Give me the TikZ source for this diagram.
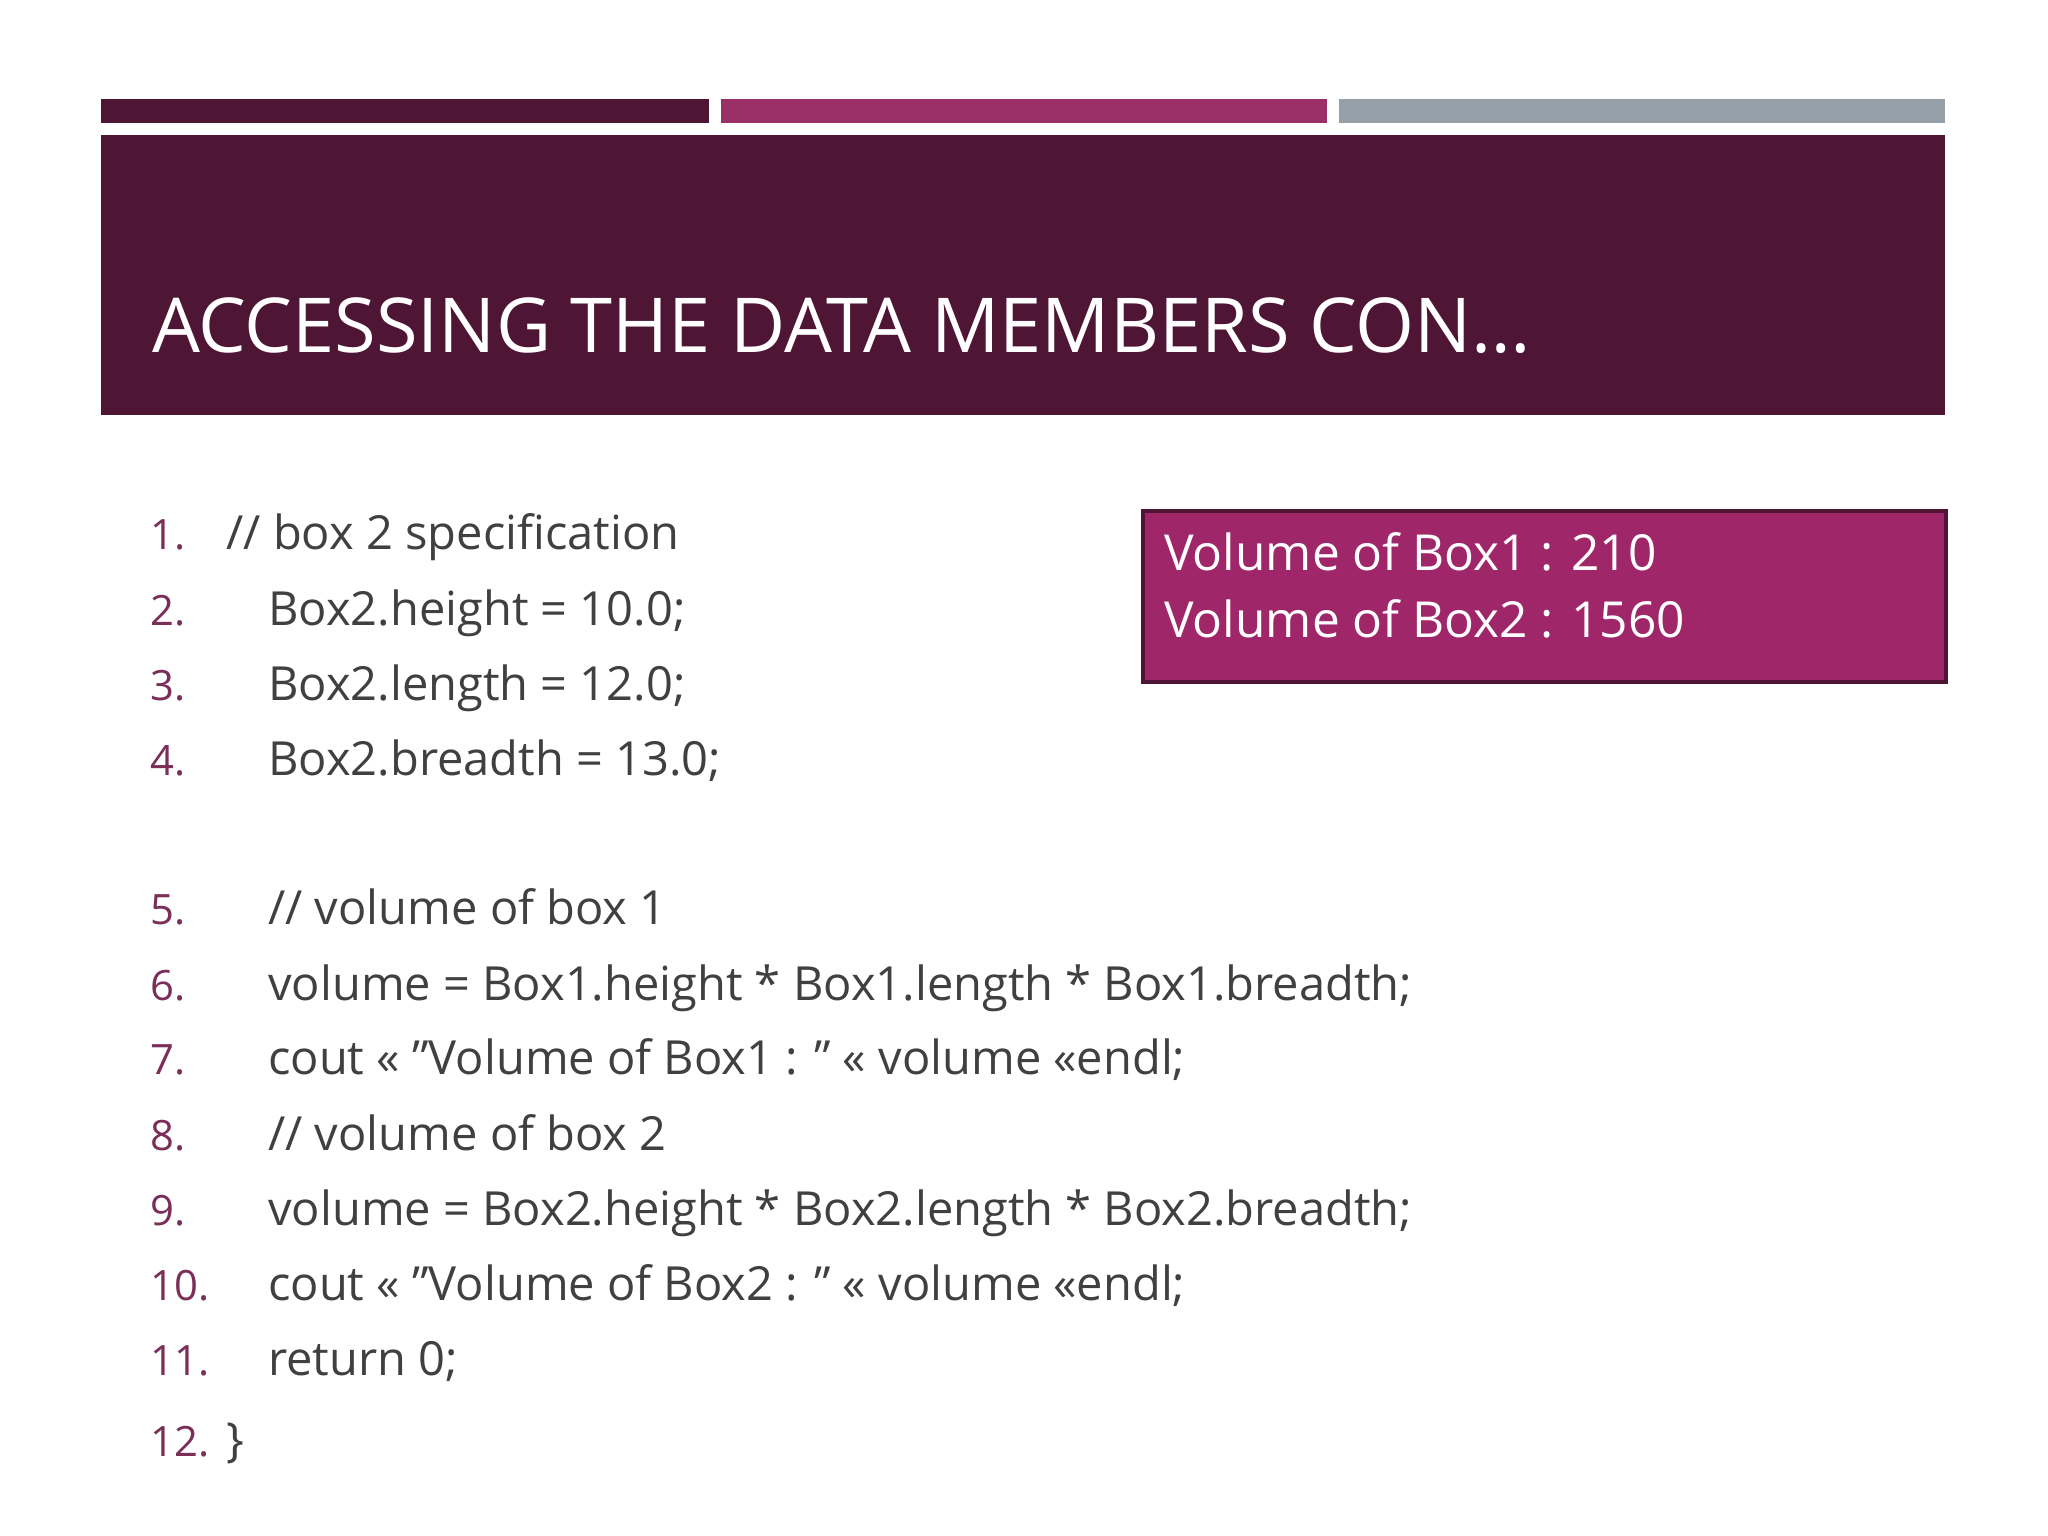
\documentclass[tikz,border=0pt]{standalone}
\usepackage{fontspec}
\setmainfont{Open Sans}
\definecolor{dk}{HTML}{4F1535}
\definecolor{mg}{HTML}{9B2F68}
\definecolor{gr}{HTML}{95A0A8}
\definecolor{bx}{HTML}{A0266A}
\definecolor{tx}{HTML}{404040}
\definecolor{num}{HTML}{7A2E58}
\begin{document}
\begin{tikzpicture}[x=0.5pt,y=-0.5pt,
  num/.style={anchor=base west,text=num,font=\fontsize{16}{18}\selectfont,inner sep=0},
  code/.style={anchor=base west,text=tx,font=\fontsize{18}{20}\selectfont,inner sep=0}]
\fill[white] (0,0) rectangle (1568,1176);
\useasboundingbox (0,0) rectangle (1568,1176);
\fill[dk] (77,76) rectangle (543,94);
\fill[mg] (552,76) rectangle (1016,94);
\fill[gr] (1025,76) rectangle (1489,94);
\fill[dk] (77,103) rectangle (1489,318);
\node[anchor=base west,text=white,font=\fontsize{29}{32}\selectfont,inner sep=0] (title) at (116,270) {ACCESSING THE DATA MEMBERS CON…};
\draw[fill=bx,draw=dk,line width=1.5pt] (875,391) rectangle (1490,522);
\node[anchor=base west,text=white,font=\fontsize{19}{22}\selectfont,inner sep=0] (o1) at (891,437) {Volume of Box1 : 210};
\node[anchor=base west,text=white,font=\fontsize{19}{22}\selectfont,inner sep=0] (o2) at (891,488) {Volume of Box2 : 1560};
\foreach \n/\y/\x/\t in {1/421/173/{// box 2 specification},
  2/479/205/{Box2.height = 10.0;},
  3/536/205/{Box2.length = 12.0;},
  4/594/205/{Box2.breadth = 13.0;},
  5/708/205/{// volume of box 1},
  6/766/205/{volume = Box1.height * Box1.length * Box1.breadth;},
  7/823/205/{cout << "Volume of Box1 : " << volume <<endl;},
  8/881/205/{// volume of box 2},
  9/938/205/{volume = Box2.height * Box2.length * Box2.breadth;},
  10/996/205/{cout << "Volume of Box2 : " << volume <<endl;},
  11/1053/205/{return 0;},
  12/1115/173/{\}}}
{
  \node[num] (n\n) at (115,\y) {\n.};
  \node[code] (c\n) at (\x,\y) {\t};
}
\end{tikzpicture}
\end{document}
